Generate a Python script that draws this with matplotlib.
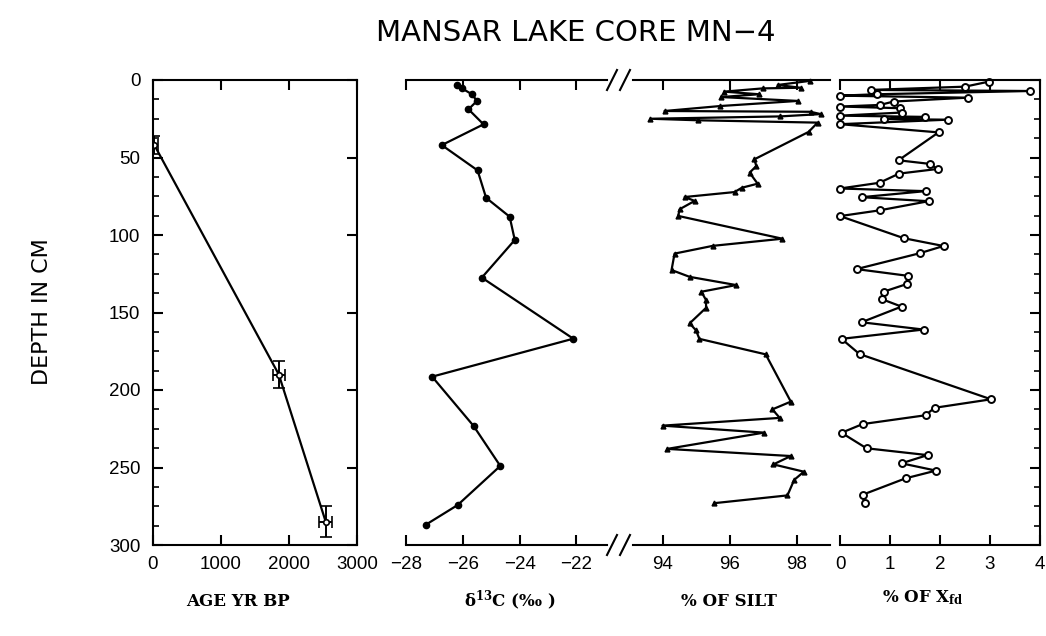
import matplotlib
matplotlib.use("Agg")
import matplotlib.pyplot as plt
from matplotlib.lines import Line2D
import numpy as np

plt.rcParams['mathtext.fontset'] = 'dejavuserif'

# ---------------- data ----------------
age_years = [20, 1850, 2540]
age_depth = [42, 190, 285]
age_xerr = [60, 90, 95]
age_yerr = [6, 9, 10]

d13c_depth = [3.5, 5.4, 9.2, 13.5, 18.9, 28.6, 42.0, 58.3, 76.0, 88.2, 103.2,
              127.5, 166.9, 191.4, 223.2, 249.0, 274.2, 287.0]
d13c_value = [-26.2, -26.03, -25.68, -25.5, -25.8, -25.27, -26.74, -25.48,
              -25.18, -24.35, -24.17, -25.33, -22.11, -27.08, -25.62, -24.68,
              -26.18, -27.31]

silt_depth = [0.6, 3.2, 5.0, 5.4, 7.5, 9.2, 11.0, 13.5, 16.8, 20.0, 20.5, 22.0,
              23.5, 25.0, 26.0, 27.5, 33.5, 51.2, 55.5, 59.8, 66.9, 69.5, 72.3,
              75.5, 78.0, 83.4, 87.7, 102.4, 107.0, 112.0, 122.6, 127.0, 132.3,
              136.6, 142.0, 147.0, 157.0, 161.5, 167.0, 177.0, 207.5, 212.5,
              218.0, 223.0, 227.5, 238.0, 242.6, 248.0, 252.7, 258.0, 268.0,
              273.0]
silt_value = [98.39, 97.44, 98.12, 97.0, 95.84, 96.88, 95.75, 98.04, 95.72,
              94.06, 98.42, 98.72, 97.5, 93.64, 95.07, 98.63, 98.36, 96.74,
              96.8, 96.6, 96.84, 96.37, 96.15, 94.66, 94.96, 94.51, 94.47,
              97.58, 95.5, 94.36, 94.27, 94.81, 96.2, 95.16, 95.3, 95.3, 94.81,
              95.0, 95.1, 97.08, 97.83, 97.28, 97.5, 94.0, 97.03, 94.14, 97.83,
              97.31, 98.22, 97.93, 97.73, 95.55]

xfd_depth = [1.1, 4.3, 6.4, 7.1, 9.2, 10.1, 11.4, 13.9, 16.1, 17.1, 18.2, 21.0,
             23.0, 23.8, 25.2, 25.6, 28.5, 33.8, 51.8, 54.1, 57.4, 60.4, 66.3,
             70.0, 71.7, 75.6, 78.2, 84.1, 87.8, 102.1, 107.1, 111.8, 122.0,
             126.3, 131.7, 136.6, 141.3, 146.2, 156.3, 161.0, 167.0, 176.8,
             206.0, 211.5, 216.3, 222.0, 227.6, 237.6, 242.0, 247.3, 252.0,
             257.0, 267.6, 273.0]
xfd_value = [2.97, 2.5, 0.61, 3.8, 0.73, 0.0, 2.55, 1.07, 0.8, 0.0, 1.2, 1.23,
             0.0, 1.69, 0.87, 2.15, 0.0, 1.97, 1.17, 1.79, 1.95, 1.18, 0.79,
             0.0, 1.71, 0.43, 1.77, 0.79, 0.0, 1.28, 2.07, 1.59, 0.33, 1.35,
             1.33, 0.87, 0.83, 1.23, 0.43, 1.67, 0.03, 0.39, 3.02, 1.89, 1.71,
             0.45, 0.03, 0.53, 1.75, 1.23, 1.92, 1.31, 0.45, 0.49]

depth_ticks = [0, 50, 100, 150, 200, 250, 300]
age_ticks = [0, 1000, 2000, 3000]
d13c_ticks = [-28, -26, -24, -22]
silt_ticks = [94, 96, 98]
xfd_ticks = [0, 1, 2, 3, 4]

title = "MANSAR LAKE CORE MN\u22124"
ylabel = "DEPTH IN CM"
xlabels = ["AGE YR BP", r"δ$^{\mathbf{13}}$C (‰ )", "% OF SILT",
           r"% OF X$_{\mathbf{fd}}$"]

# ---------------- layout ----------------
W, H = 1046, 636
fig = plt.figure(figsize=(W / 100, H / 100), dpi=100)

def fx(px):
    return px / W

def fy(py):
    return 1 - py / H

top_px, bot_px = 80, 545
b = fy(bot_px)
h = (bot_px - top_px) / H

ax1 = fig.add_axes([fx(153), b, fx(204), h])
ax2 = fig.add_axes([fx(406), b, fx(201), h])
ax3 = fig.add_axes([fx(633), b, fx(197), h])
ax4 = fig.add_axes([fx(840), b, fx(200), h])

tickfont = dict(family='Liberation Sans', size=13.5)
lw = 1.5
for ax in (ax1, ax2, ax3, ax4):
    ax.set_ylim(300, 0)
    for s in ax.spines.values():
        s.set_linewidth(lw)
    ax.tick_params(direction='in', length=7, width=lw, which='major')
    ax.tick_params(direction='in', length=4, width=1.2, which='minor')

# Panel 1: age-depth
ax1.set_xlim(0, 3000)
ax1.errorbar(age_years, age_depth, xerr=age_xerr, yerr=age_yerr, color='black',
             lw=1.6, marker='o', ms=4, mfc='white', mec='black', mew=1.2,
             capsize=4, elinewidth=1.4, capthick=1.4)
ax1.set_yticks(depth_ticks)
ax1.set_yticks(np.arange(0, 301, 12.5), minor=True)
ax1.set_xticks(age_ticks)
ax1.tick_params(axis='y', which='major', left=True, right=True, labelleft=True)
ax1.tick_params(axis='y', which='minor', left=True, right=False)
ax1.tick_params(axis='x', top=True, bottom=True, pad=8)
ax1.tick_params(axis='y', pad=9)
ax1.set_xticklabels([str(t) for t in age_ticks], **tickfont)
ax1.set_yticklabels([str(t) for t in depth_ticks], **tickfont)

# Panel 2: d13C
ax2.set_xlim(-28, -28 + 201 / 28.4)
ax2.plot(d13c_value, d13c_depth, color='black', lw=1.6, marker='o', ms=4.5,
         mfc='black', mec='black', clip_on=False)
ax2.set_xticks(d13c_ticks)
ax2.set_xticklabels(["\u221228", "\u221226", "\u221224", "\u221222"], **tickfont)
ax2.tick_params(axis='x', top=True, bottom=True, pad=8)
ax2.set_yticks([])
ax2.spines['left'].set_visible(False)
ax2.spines['right'].set_visible(False)

# Panel 3: silt
ax3.set_xlim(99 - 197 / 33.5, 99)
ax3.plot(silt_value, silt_depth, color='black', lw=1.6, marker='^', ms=3.5,
         mfc='black', mec='black', clip_on=False)
ax3.set_xticks(silt_ticks)
ax3.set_xticklabels([str(t) for t in silt_ticks], **tickfont)
ax3.tick_params(axis='x', top=True, bottom=True, pad=8)
ax3.set_yticks([])
ax3.spines['left'].set_visible(False)
ax3.spines['right'].set_visible(False)

# Panel 4: Xfd
ax4.set_xlim(0, 4)
ax4.plot(xfd_value, xfd_depth, color='black', lw=1.6, marker='o', ms=5,
         mfc='white', mec='black', mew=1.4, clip_on=False)
ax4.set_xticks(xfd_ticks)
ax4.set_xticklabels([str(t) for t in xfd_ticks], **tickfont)
ax4.tick_params(axis='x', top=True, bottom=True, pad=8)
ax4.set_yticks(depth_ticks)
ax4.set_yticks(np.arange(0, 301, 12.5), minor=True)
ax4.tick_params(axis='y', which='both', left=False, right=True,
                labelleft=False, labelright=False)
ax4.spines['left'].set_visible(False)

# axis break marks
for yb in (top_px, bot_px):
    for x0 in (607, 620):
        fig.add_artist(Line2D([fx(x0), fx(x0 + 10)], [fy(yb + 10), fy(yb - 10)],
                              transform=fig.transFigure, color='black', lw=1.5))

# titles and labels
fig.text(fx(576), fy(33), title, ha='center', va='center',
         family='DejaVu Sans', size=21)
fig.text(fx(42), fy(312), ylabel, ha='center', va='center', rotation=90,
         family='DejaVu Sans', size=16)
label_x = [238, 510, 729, 923]
label_y = [601, 601, 601, 598]
for lx, ly, t in zip(label_x, label_y, xlabels):
    fig.text(fx(lx), fy(ly), t, ha='center', va='center',
             family='DejaVu Serif', weight='bold', size=12)

fig.savefig("out.png", dpi=100)
